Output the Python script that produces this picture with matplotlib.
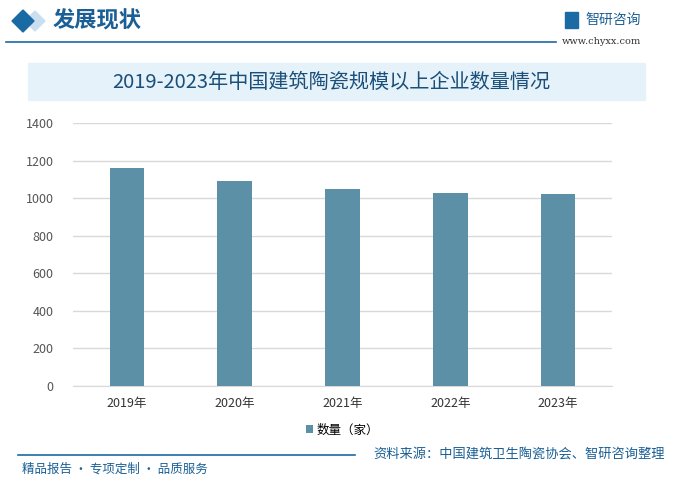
import matplotlib
matplotlib.use('Agg')
import matplotlib.pyplot as plt
from matplotlib.patches import Rectangle, Polygon

plt.rcParams['font.family'] = ['Noto Sans CJK SC', 'DejaVu Sans']

years = ['2019年', '2020年', '2021年', '2022年', '2023年']
counts = [1160, 1091, 1048, 1027, 1022]
yticks = [0, 200, 400, 600, 800, 1000, 1200, 1400]

W, H = 675, 482
fig = plt.figure(figsize=(W / 100, H / 100), dpi=100)

def fx(px):
    return px / W

def fy(py):
    return 1 - py / H

# header
fig.patches.append(Polygon([[fx(12), fy(21)], [fx(23), fy(10)], [fx(34), fy(21)], [fx(23), fy(32)]],
                           closed=True, transform=fig.transFigure, color='#1a6aa3', zorder=2))
fig.patches.append(Polygon([[fx(25), fy(21)], [fx(35), fy(11)], [fx(45), fy(21)], [fx(35), fy(31)]],
                           closed=True, transform=fig.transFigure, color='#c9dff0', zorder=1))
fig.text(fx(53), fy(21), '发展现状', fontsize=16, color='#1a5f95', va='center', ha='left', weight='bold')
fig.lines.append(plt.Line2D([fx(6), fx(556)], [fy(42), fy(42)], transform=fig.transFigure,
                            color='#1a6aa3', lw=1.2))
fig.text(fx(585), fy(20), '智研咨询', fontsize=10, color='#1a5f95', va='center', ha='left')
fig.patches.append(Rectangle((fx(565), fy(28)), fx(13), 16 / H, transform=fig.transFigure,
                             color='#1a6aa3'))
fig.text(fx(562), fy(41), 'www.chyxx.com', fontsize=7, color='#333333', va='center', ha='left',
         family='DejaVu Serif')

# title band
fig.patches.append(Rectangle((fx(28), fy(100)), fx(617), 37 / H, transform=fig.transFigure,
                             color='#e6f2fa', zorder=0))
fig.text(fx(331), fy(82), '2019-2023年中国建筑陶瓷规模以上企业数量情况', fontsize=14.5,
         color='#1a4f7a', ha='center', va='center')

# chart
ax = fig.add_axes([fx(73), fy(386), fx(612 - 73), (386 - 123) / H])
ax.bar(range(len(years)), counts, width=0.32, color='#5b90a6', zorder=3, label='数量（家）')
ax.set_ylim(0, 1400)
ax.set_xlim(-0.5, len(years) - 0.5)
ax.set_yticks(yticks)
ax.set_yticklabels([str(v) for v in yticks], fontsize=9, color='#555555')
ax.set_xticks(range(len(years)))
ax.set_xticklabels(years, fontsize=9, color='#333333')
ax.grid(axis='y', color='#d9d9d9', lw=1, zorder=0)
for s in ['top', 'right', 'left']:
    ax.spines[s].set_visible(False)
ax.spines['bottom'].set_color('#d9d9d9')
ax.tick_params(length=0, pad=8)
ax.tick_params(axis='y', pad=14)
ax.legend(loc='upper center', bbox_to_anchor=(0.5, -0.1), frameon=False, fontsize=9,
          handlelength=0.6, handleheight=0.6, handletextpad=0.3)

# footer
fig.lines.append(plt.Line2D([fx(18), fx(355)], [fy(455), fy(455)], transform=fig.transFigure,
                            color='#1a6aa3', lw=1.2))
fig.text(fx(22), fy(469), '精品报告 · 专项定制 · 品质服务', fontsize=9, color='#1a5f95',
         va='center', ha='left')
fig.text(fx(665), fy(455), '资料来源：中国建筑卫生陶瓷协会、智研咨询整理', fontsize=9.5,
         color='#1a5f95', va='center', ha='right')

fig.savefig('out.png', dpi=100)
